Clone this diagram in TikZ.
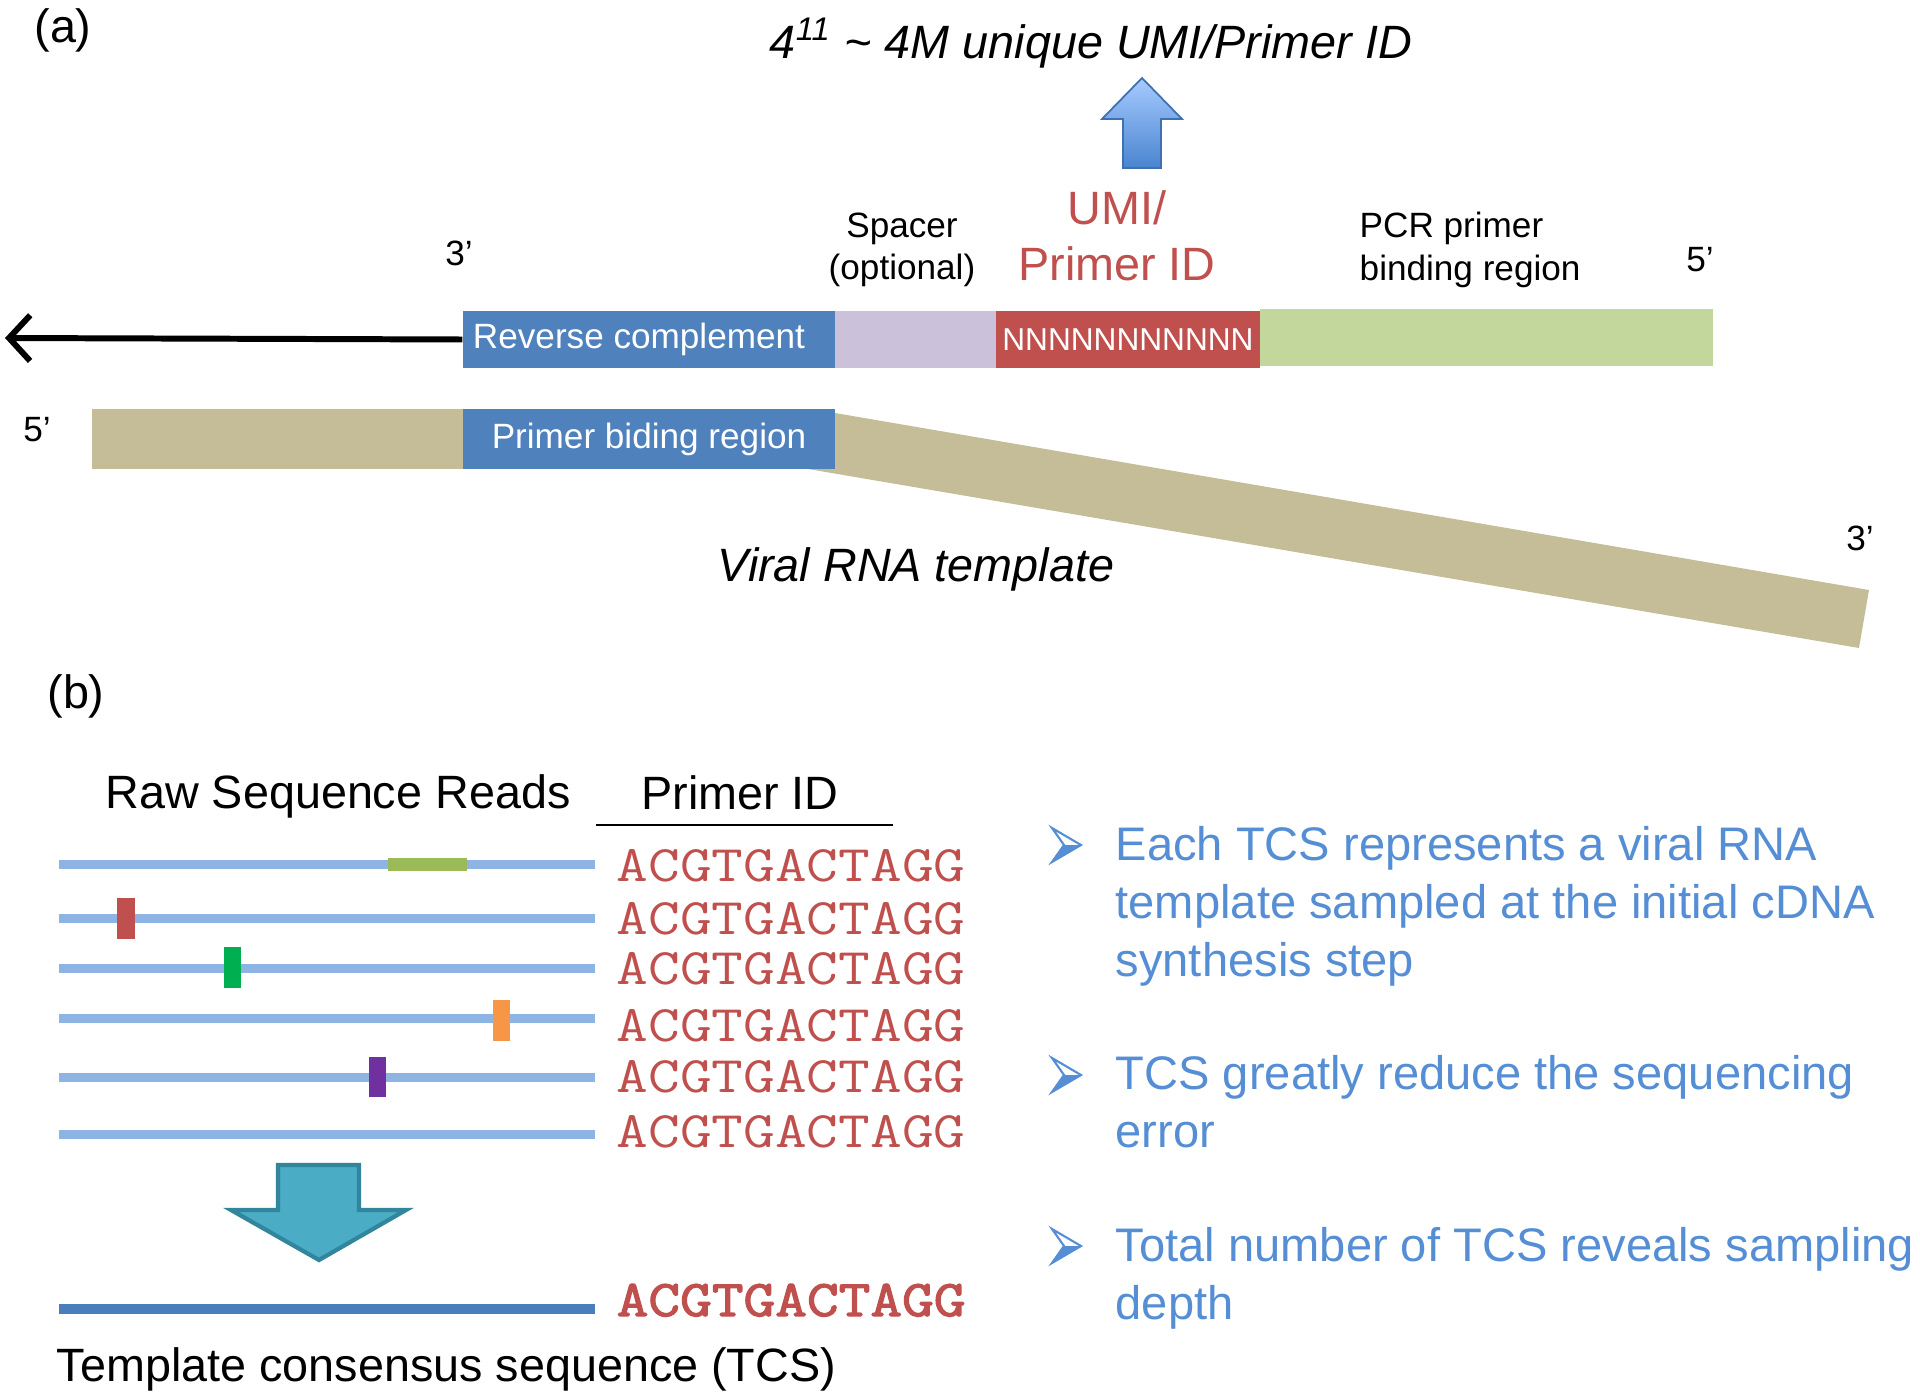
\documentclass[tikz,border=0pt]{standalone}
\usepackage{fontspec}
\setmainfont{Liberation Sans}
\newfontfamily\seqfont{Latin Modern Mono}[FakeStretch=1.2]
\newfontfamily\seqboldfont{Latin Modern Mono}[FakeStretch=1.2,FakeBold=2.5]
\usepackage{tikz}
\usetikzlibrary{arrows.meta}

\definecolor{boxblue}{HTML}{4F81BD}
\definecolor{spacerpurple}{HTML}{CCC1DA}
\definecolor{umired}{HTML}{C0504D}
\definecolor{pcrgreen}{HTML}{C3D69B}
\definecolor{rnatan}{HTML}{C4BD97}
\definecolor{readblue}{HTML}{8EB4E3}
\definecolor{tcsblue}{HTML}{4A7EBB}
\definecolor{noteblue}{HTML}{558ED5}
\definecolor{arrowteal}{HTML}{4BACC6}
\definecolor{arrowedge}{HTML}{31859C}
\definecolor{uplight}{HTML}{A6CBFF}
\definecolor{updark}{HTML}{4A84D0}
\definecolor{errolive}{HTML}{9BBB59}
\definecolor{errgreen}{HTML}{00B050}
\definecolor{errorange}{HTML}{F79646}
\definecolor{errpurple}{HTML}{7030A0}

\begin{document}
\begin{tikzpicture}[x=0.1mm,y=-0.1mm,
  big/.style={font=\fontsize{13.3}{16}\selectfont},
  small/.style={font=\fontsize{10}{12}\selectfont},
  segbox/.style={inner sep=0pt,minimum height=5.7mm,text=white,font=\fontsize{10}{12}\selectfont},
  seq/.style={font=\seqfont\fontsize{14.6}{18}\selectfont,text=umired,anchor=base west,inner sep=0pt},
  note/.style={font=\fontsize{13.4}{16.4}\selectfont,text=noteblue,anchor=base west,align=left,inner sep=0pt},
  read/.style={readblue,line width=2.56pt},
]
\useasboundingbox (0,0) rectangle (1920,1399);

% (a) primer
\node[big] (lbla) at (63,30) {(a)};
\node[big] (title) at (1091,43) {\itshape 4\textsuperscript{11} \textasciitilde\ 4M unique UMI/Primer ID};
\shade[top color=uplight,bottom color=updark] (1142,78) -- (1182,119) -- (1161,119) -- (1161,168) -- (1123,168) -- (1123,119) -- (1102,119) -- cycle;
\draw[updark!85!black,line width=0.5pt,line join=miter] (1142,78) -- (1182,119) -- (1161,119) -- (1161,168) -- (1123,168) -- (1123,119) -- (1102,119) -- cycle;
\node[big,text=umired,align=center] (umi) at (1117,236) {UMI/\\Primer ID};
\node[small,align=center] (spacer) at (902,250) {Spacer\\(optional)};
\node[small,align=left,anchor=west,inner sep=0pt] (pcr) at (1359,250) {PCR primer\\binding region};
\node[small] (three1) at (459,253) {3'};
\node[small] (five1) at (1700,260) {5'};

\node[segbox,fill=boxblue,minimum width=37.2mm] (revc) at (649,339.5) {\hspace*{-2mm}Reverse complement};
\node[segbox,fill=spacerpurple,minimum width=16.1mm] (spc) at (915.5,339.5) {};
\node[segbox,fill=umired,minimum width=26.4mm,font=\fontsize{9}{11}\selectfont] (nseq) at (1128,339.5) {NNNNNNNNNNN};
\node[segbox,fill=pcrgreen,minimum width=45.3mm] (pcrbox) at (1486.5,338) {};
\coordinate (tip) at (5,338);
\draw[line width=1.7pt,-{Straight Barb[length=6pt,width=13pt]}] (revc.west) -- (tip);

% template
\fill[rnatan] (835,413) -- (1869,590) -- (1859,648) -- (808,469) -- cycle;
\fill[rnatan] (92,409) rectangle (835,469);
\node[segbox,fill=boxblue,minimum width=37.2mm,minimum height=6mm] (pbr) at (649,439) {Primer biding region};
\node[small] (five2) at (37,430) {5'};
\node[small] (three2) at (1860,538) {3'};
\node[big] (viral) at (916,569) {\itshape Viral RNA template};

% (b) reads
\node[big] (lblb) at (76,696) {(b)};
\node[big] (rawhdr) at (338,796) {Raw Sequence Reads};
\node[big] (pidhdr) at (740,793) {Primer ID};
\draw[line width=0.8pt] (596,825) -- (893,825);

\draw[read] (59,864) -- (595,864);
\draw[read] (59,918) -- (595,918);
\draw[read] (59,968) -- (595,968);
\draw[read] (59,1018) -- (595,1018);
\draw[read] (59,1077) -- (595,1077);
\draw[read] (59,1134) -- (595,1134);
\fill[errolive] (388,857.5) rectangle (467,870.5);
\fill[umired] (117,897.5) rectangle (135,938.5);
\fill[errgreen] (224,947) rectangle (241,988);
\fill[errorange] (493,1000) rectangle (510,1041);
\fill[errpurple] (369,1057) rectangle (386,1097);

\node[seq] (seq1) at (616,881) {ACGTGACTAGG};
\node[seq] (seq2) at (616,934) {ACGTGACTAGG};
\node[seq] (seq3) at (616,984) {ACGTGACTAGG};
\node[seq] (seq4) at (616,1041) {ACGTGACTAGG};
\node[seq] (seq5) at (616,1092) {ACGTGACTAGG};
\node[seq] (seq6) at (616,1147) {ACGTGACTAGG};

\filldraw[fill=arrowteal,draw=arrowedge,line width=1.2pt,line join=miter] (278,1165) -- (359,1165) -- (359,1210) -- (406,1210) -- (319,1260) -- (231,1210) -- (278,1210) -- cycle;
\draw[tcsblue,line width=2.8pt] (59,1309) -- (595,1309);
\node[seq,font=\seqboldfont\fontsize{14.6}{18}\selectfont] (tcsseq) at (616,1316) {ACGTGACTAGG};
\node[big,anchor=west,inner sep=0pt] (tcslbl) at (56,1369) {Template consensus sequence (TCS)};

% notes
\draw[noteblue,line width=0.6pt,line join=miter] (1052,828) -- (1081,845) -- (1052,862) -- (1064,845) -- cycle;
\fill[noteblue] (1064,845) -- (1081,845) -- (1052,862) -- cycle;
\draw[noteblue,line width=0.6pt,line join=miter] (1052,1058) -- (1081,1075) -- (1052,1092) -- (1064,1075) -- cycle;
\fill[noteblue] (1064,1075) -- (1081,1075) -- (1052,1092) -- cycle;
\draw[noteblue,line width=0.6pt,line join=miter] (1052,1229) -- (1081,1246) -- (1052,1263) -- (1064,1246) -- cycle;
\fill[noteblue] (1064,1246) -- (1081,1246) -- (1052,1263) -- cycle;
\node[note] (note1) at (1115,976) {Each TCS represents a viral RNA\\template sampled at the initial cDNA\\synthesis step};
\node[note] (note2) at (1115,1147) {TCS greatly reduce the sequencing\\error};
\node[note] (note3) at (1115,1319) {Total number of TCS reveals sampling\\depth};
\end{tikzpicture}
\end{document}
